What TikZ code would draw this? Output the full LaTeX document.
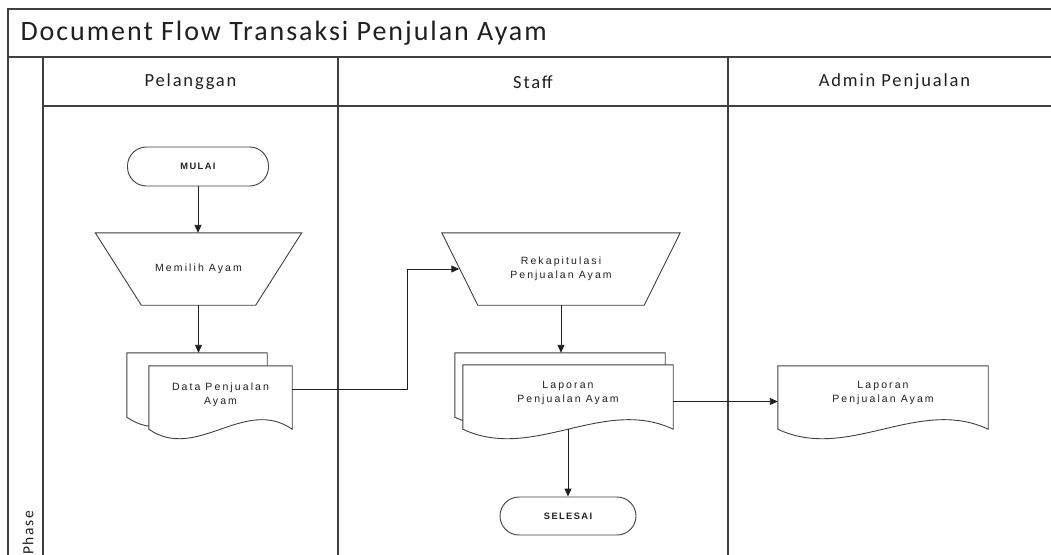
\documentclass[tikz,border=0pt]{standalone}
\usepackage{fontspec}
\setmainfont{Carlito}
\newfontfamily\titlefont[LetterSpace=7]{Carlito}
\newfontfamily\headfont[LetterSpace=10]{Carlito}
\newfontfamily\shapefont[LetterSpace=20]{Liberation Sans}
\newfontfamily\termfont[LetterSpace=15]{Liberation Sans}
\usetikzlibrary{arrows.meta,calc}
\pgfdeclarelayer{outlines}
\pgfsetlayers{outlines,main}

\definecolor{ink}{HTML}{202020}
\definecolor{edge}{HTML}{404040}

% document symbol: straight top and sides, wavy bottom edge
\newcommand{\docoutline}[1]{%
  \draw[outline] (#1.north west) -- (#1.north east) -- (#1.south east)
    .. controls ($(#1.south east)!0.333!(#1.south west)+(0,-33)$)
    and ($(#1.south east)!0.667!(#1.south west)+(0,33)$) .. (#1.south west) -- cycle;}
% manual operation symbol: trapezium, wide side on top
\newcommand{\manualop}[2]{%
  \draw[outline] (#1.north west) -- (#1.north east)
    -- ($(#1.south east)+(-#2,0)$) -- ($(#1.south west)+(#2,0)$) -- cycle;}

\begin{document}
\begin{tikzpicture}[x=1pt,y=-1pt,
  frame/.style={draw=edge, line width=1.4pt},
  outline/.style={draw=edge, line width=0.9pt, fill=white},
  flow/.style={draw=ink, line width=0.9pt, -{Triangle[length=8pt,width=7pt]}},
  shapetext/.style={font=\shapefont\fontsize{10.5}{14}\selectfont, align=center, text=ink},
  box/.style={inner sep=0pt, minimum width=#1},
  terminal/.style={draw=edge, line width=0.9pt, fill=white, rounded corners=19pt,
    inner sep=0pt, font=\termfont\bfseries\fontsize{9.3}{11}\selectfont, text=ink},
  heading/.style={font=\headfont\fontsize{18.5}{22}\selectfont, text=ink}]

\useasboundingbox (0,0) rectangle (1051,554);
\clip (0,0) rectangle (1051,554);

\begin{pgfonlayer}{outlines}
  \fill[white] (0,0) rectangle (1051,554);
\end{pgfonlayer}

% swimlane frame
\draw[frame] (1070,9) -- (8,9) -- (8,570);
\draw[frame] (8,57) -- (1070,57);
\draw[frame] (43,106) -- (1070,106);
\draw[frame] (43,57) -- (43,570);
\draw[frame] (338,57) -- (338,570);
\draw[frame] (728,57) -- (728,570);

\node[anchor=west, font=\titlefont\fontsize{28}{32}\selectfont, text=ink] (title) at (17,33)
  {Document Flow Transaksi Penjulan Ayam};
\node[heading] (lane1) at (190.5,82) {Pelanggan};
\node[heading] (lane2) at (533,82) {Staff};
\node[heading] (lane3) at (894.5,82) {Admin Penjualan};
\node[rotate=90, font=\headfont\fontsize{15.5}{18}\selectfont, text=ink] (phase) at (28,533) {Phase};

% start / end
\node[terminal, minimum width=141, minimum height=39] (mulai) at (198,166.5) {MULAI};
\node[terminal, minimum width=136, minimum height=38] (selesai) at (568,516) {SELESAI};

% manual operations
\node[box=206, minimum height=72, shapetext] (memilih) at (198.5,269) {Memilih Ayam};
\node[box=238, minimum height=72, shapetext] (rekap) at (561,269) {Rekapitulasi\\Penjualan Ayam};

% documents
\node[box=140, minimum height=64] (databack) at (197,385) {};
\node[box=143, minimum height=63,
  label={[shapetext, yshift=2.5pt]center:Data Penjualan\\Ayam}] (data) at (220.5,397.5) {};
\node[box=210, minimum height=64] (lapback) at (560,385) {};
\node[box=210, minimum height=64,
  label={[shapetext, yshift=4.5pt]center:Laporan\\Penjualan Ayam}] (lap) at (568,397) {};
\node[box=210, minimum height=63,
  label={[shapetext, yshift=4.5pt]center:Laporan\\Penjualan Ayam}] (admin) at (883,397.5) {};

\begin{pgfonlayer}{outlines}
  \manualop{memilih}{46}
  \manualop{rekap}{36}
  \docoutline{databack}
  \docoutline{data}
  \docoutline{lapback}
  \docoutline{lap}
  \docoutline{admin}
\end{pgfonlayer}

\coordinate (rekapin) at ($(rekap.west)+(17.5,0)$);

% connectors
\draw[flow] (mulai.south) -- (mulai.south |- memilih.north);
\draw[flow] (memilih.south) -- (memilih.south |- databack.north);
\draw[flow] ([yshift=8.5pt]data.east) -- ++(115,0) |- (rekapin);
\draw[flow] (rekap.south) -- (rekap.south |- lapback.north);
\draw[flow] ([yshift=-4.5pt]lap.east) -- ([yshift=-4.5pt]lap.east -| admin.west);
\draw[flow] (lap.south) -- (selesai.north);
\end{tikzpicture}
\end{document}
